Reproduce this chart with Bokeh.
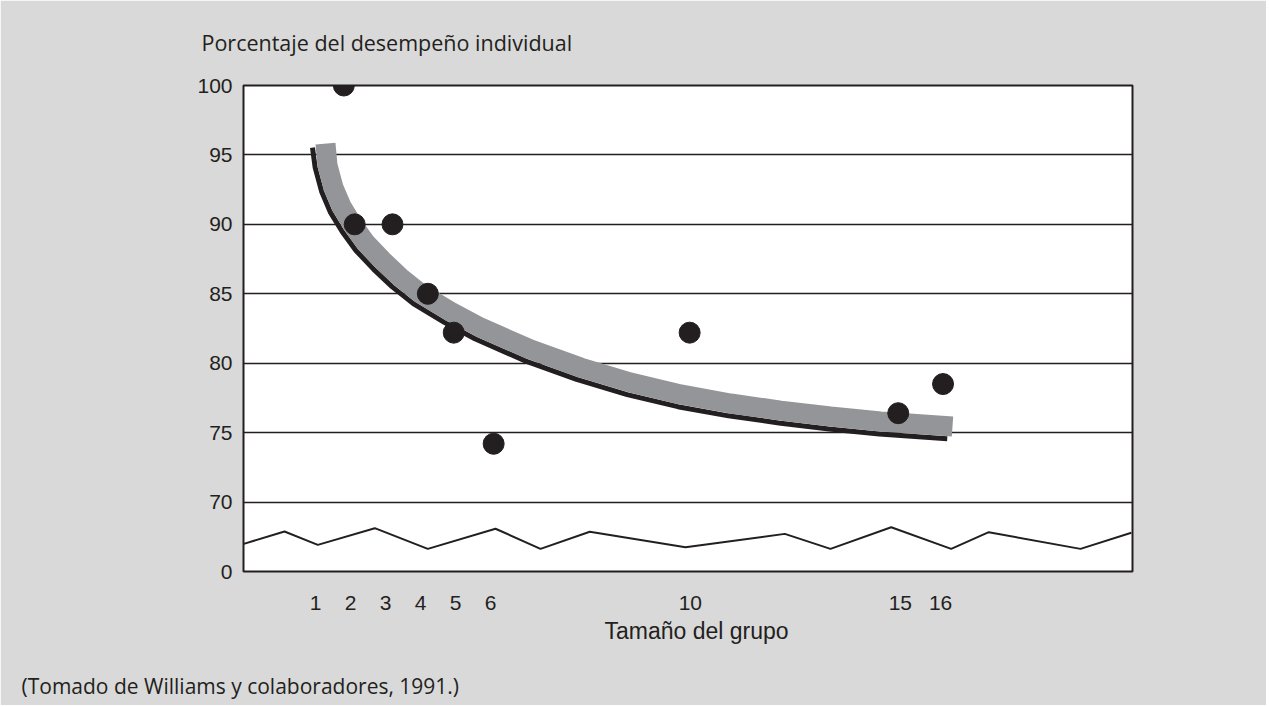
from bokeh.plotting import figure
from bokeh.models import Range1d, FixedTicker, Title
from bokeh.embed import file_html
from bokeh.resources import INLINE

# ---- data ----
# x axis is drawn in "display units": group size 1..6 are evenly spaced, 10/15/16 further out
tick_groups = ["1", "2", "3", "4", "5", "6", "10", "15", "16"]
tick_pos = [1, 2, 3, 4, 5, 6, 11.71, 17.71, 18.86]

y_ticks = [65, 70, 75, 80, 85, 90, 95, 100]
y_tick_labels = ["0", "70", "75", "80", "85", "90", "95", "100"]

# observed points (position on the display axis, percentage)
pts_x = [1.81, 2.12, 3.20, 4.21, 4.95, 6.09, 11.69, 17.65, 18.93]
pts_y = [100.0, 90.0, 90.0, 85.0, 82.2, 74.2, 82.2, 76.4, 78.5]

# fitted trend (gray band)
trend_x = [1.286, 1.343, 1.514, 1.743, 2.057, 2.429, 2.914, 3.429, 4.0, 4.857,
           5.714, 7.143, 8.571, 10.0, 11.429, 12.857, 14.286, 15.714, 17.143, 19.2]
trend_y = [95.82, 94.24, 92.65, 91.29, 89.99, 88.69, 87.40, 86.17, 85.02, 83.72,
           82.57, 80.99, 79.69, 78.61, 77.75, 77.10, 76.59, 76.16, 75.80, 75.44]

# black curve under the band
curve_x = [0.914, 0.991, 1.174, 1.423, 1.760, 2.154, 2.663, 3.194, 3.794, 4.680,
           5.554, 7.011, 8.460, 9.906, 11.354, 12.8, 14.24, 15.675, 17.11, 19.05]
curve_y = [95.53, 94.09, 92.37, 90.88, 89.49, 88.12, 86.76, 85.50, 84.29, 82.94,
           81.76, 80.15, 78.83, 77.74, 76.87, 76.21, 75.70, 75.27, 74.90, 74.56]

# axis-break zigzag
zig_x = [-1.05, 0.114, 1.066, 2.694, 4.209, 6.143, 7.429, 8.837, 11.571, 14.409,
         15.714, 17.449, 19.163, 20.237, 22.857, 24.31]
zig_y = [66.99, 67.88, 66.92, 68.12, 66.63, 68.08, 66.63, 67.86, 66.75, 67.71,
         66.63, 68.19, 66.63, 67.83, 66.63, 67.79]

INK = "#231f20"
BG = "#d9d9d9"

p = figure(width=1266, height=705, output_backend="svg", toolbar_location=None,
           x_range=Range1d(-1.057, 24.343), y_range=Range1d(65, 100),
           min_border_left=243, min_border_right=134, min_border_top=85,
           min_border_bottom=134)
p.background_fill_color = "white"
p.border_fill_color = BG
p.outline_line_color = INK
p.outline_line_width = 2

# axes
p.xaxis.ticker = FixedTicker(ticks=tick_pos)
p.xaxis.major_label_overrides = {t: l for t, l in zip(tick_pos, tick_groups)}
p.yaxis.ticker = FixedTicker(ticks=y_ticks)
p.yaxis.major_label_overrides = {t: l for t, l in zip(y_ticks, y_tick_labels)}
for ax in (p.xaxis, p.yaxis):
    ax.axis_line_color = None
    ax.major_tick_line_color = None
    ax.minor_tick_line_color = None
    ax.major_label_text_font = "Liberation Sans"
    ax.major_label_text_font_size = "21px"
    ax.major_label_text_color = INK
p.yaxis.major_label_standoff = 5
p.xaxis.major_label_standoff = 18

p.xgrid.grid_line_color = None
p.ygrid.grid_line_color = INK
p.ygrid.grid_line_width = 1.5

# zigzag break
p.line(zig_x, zig_y, line_color=INK, line_width=2)

# curves
p.line(curve_x, curve_y, line_color=INK, line_width=5, line_cap="butt")
p.line(trend_x, trend_y, line_color="#939598", line_width=20, line_cap="butt")

# points
p.scatter(pts_x, pts_y, size=21, color=INK)

# texts
p.add_layout(Title(text="Porcentaje del desempeño individual", align="left",
                   vertical_align="top", offset=-42, standoff=53,
                   text_font="Open Sans", text_font_size="21.5px",
                   text_font_style="normal", text_color=INK), "above")
p.add_layout(Title(text="Tamaño del grupo", align="left", vertical_align="top",
                   offset=361, standoff=10, text_font="Liberation Sans",
                   text_font_size="23px", text_font_style="normal",
                   text_color=INK), "below")
# blank spacer between the axis title and the source note
p.add_layout(Title(text=" ", align="left", vertical_align="top", standoff=17,
                   text_font_size="2px", text_color=BG), "below")
p.add_layout(Title(text="(Tomado de Williams y colaboradores, 1991.)", align="left",
                   vertical_align="top", offset=-222, standoff=0,
                   text_font="Open Sans", text_font_size="21px",
                   text_font_style="normal", text_color=INK), "below")

open("out.html", "w").write(file_html(p, INLINE))
